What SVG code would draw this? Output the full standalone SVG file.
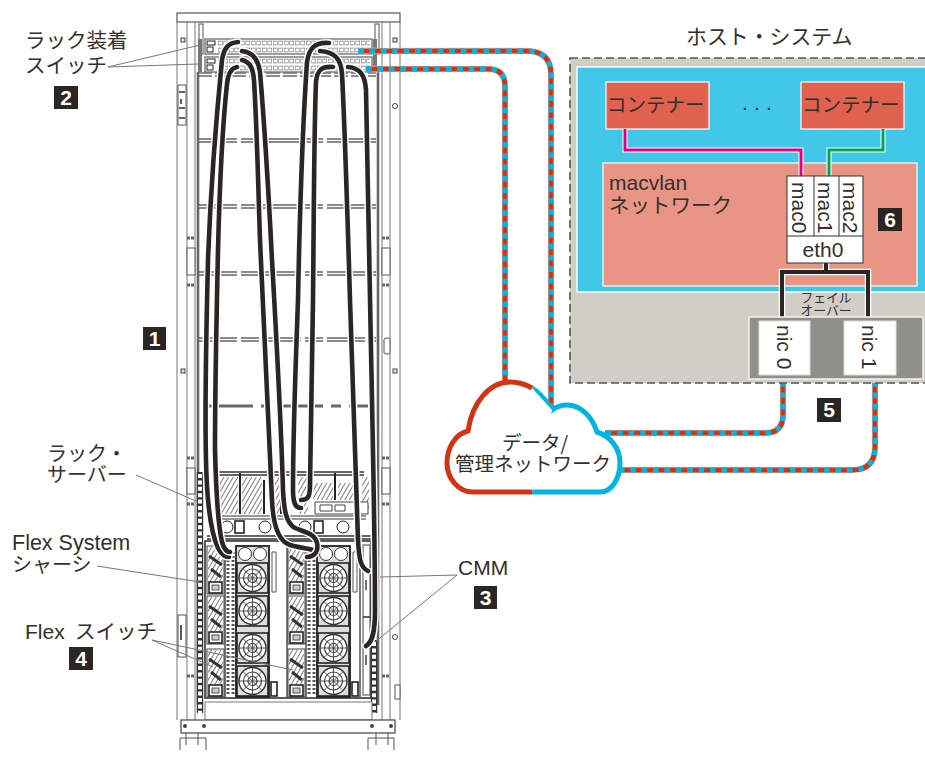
<svg xmlns="http://www.w3.org/2000/svg" width="925" height="757" viewBox="0 0 925 757">
<style>
text{font-family:"Liberation Sans","Noto Sans CJK JP",sans-serif;fill:#332f2d}
.j{font-family:"Noto Sans CJK JP","Liberation Sans",sans-serif;font-size:20px;font-weight:400}
.l{font-size:21px}
.bb{fill:#2b2523}
.bt{fill:#fff;font-size:21px;font-weight:700;text-anchor:middle}
.ln{stroke:#555;stroke-width:1;fill:none}
.t{stroke:#777;stroke-width:1;fill:none}
.thin{stroke:#444;stroke-width:.9;fill:none}
.w{fill:#fff;stroke:#555;stroke-width:1}
.sh{stroke:#666;stroke-width:1.7;fill:none}
.halo{stroke:#fff;stroke-width:7.5;fill:none;stroke-linecap:round}
.cab{stroke:#2b2523;stroke-width:4.6;fill:none;stroke-linecap:round}
.cr{stroke:#d43312;stroke-width:5;fill:none}
.cb{stroke:#00b5e2;stroke-width:5;fill:none;stroke-dasharray:5.7 5.7}
.ch{stroke:#d8d4ce;stroke-width:6.5;fill:none}
.bk{stroke:#2b2523;stroke-width:4;fill:none}
</style>
<defs>
<pattern id="hatch" width="4" height="4" patternUnits="userSpaceOnUse" patternTransform="rotate(30)"><rect width="4" height="4" fill="#fff"/><line x1="0" y1="0" x2="0" y2="4" stroke="#444" stroke-width="1.4"/></pattern>
<g id="fan"><rect x="0" y="0" width="31" height="30" fill="#ddd" stroke="#222" stroke-width="1.6"/><circle cx="15.500" cy="15" r="13.500" fill="#fff" stroke="#333" stroke-width="1.4"/><circle cx="15.500" cy="15" r="9" fill="none" stroke="#444" stroke-width="1.2"/><circle cx="15.500" cy="15" r="4.500" fill="none" stroke="#333" stroke-width="1.2"/><path d="M15.500 1.500V28.500M2 15H29M6 5.500L25 24.500M25 5.500L6 24.500" class="thin"/></g>
<g id="blade"><rect x="0" y="0" width="17" height="48" fill="#fff" stroke="#444" stroke-width="1"/><rect x="1" y="1" width="15" height="34" fill="url(#hatch)"/><path d="M2 10L15 19M4 23L14 31" stroke="#333" stroke-width="3" fill="none"/><rect x="2" y="36" width="13" height="11" fill="#fff" stroke="#222" stroke-width="1.6"/><rect x="5" y="39" width="7" height="5" fill="#ccc" stroke="#333" stroke-width=".8"/></g>
<g id="sw"><rect x="0" y="0" width="167" height="15" fill="#fff" stroke="#777" stroke-width="1.4"/><rect x="2" y="2" width="8" height="4" fill="#fff" stroke="#222"/><rect x="2" y="8" width="6" height="5" fill="#fff" stroke="#222"/><path d="M13 4H165M13 11H165" stroke="#777" stroke-width="4.400" stroke-dasharray="4.500 1" fill="none"/><path d="M13 4H165M13 11H165" stroke="#fff" stroke-width="2.800" stroke-dasharray="3.500 2" stroke-dashoffset="-.5" fill="none"/></g>
</defs>

<g id="rack">
<rect x="177" y="13" width="223" height="9" fill="#fff" stroke="#555" stroke-width="1.2"/>
<path d="M177 22V720M187 22V720M390 22V720M400 22V720" class="t"/>
<path d="M195 22V720M382 22V720" class="t"/>
<path d="M198 72V705M378 72V705" stroke="#666" stroke-width="2.600" fill="none"/>
<rect x="199" y="24" width="4" height="30" class="w"/><rect x="375" y="24" width="4" height="30" class="w"/>
<path d="M200 39V72M375 39V72" stroke="#777" stroke-width="4" fill="none"/>
<rect x="178" y="85" width="8" height="40" class="w"/><rect x="178" y="615" width="8" height="42" class="w"/>
<path d="M179 92H185M179 108H185M179 118H185M181 99V104M181 625V640" stroke="#333" stroke-width="1.6" fill="none"/>
<rect x="181" y="38" width="4" height="4" fill="#ddd" stroke="#444"/><rect x="393" y="38" width="4" height="4" fill="#ddd" stroke="#444"/>
<circle cx="395" cy="106" r="2.500" fill="#fff" stroke="#444"/><circle cx="395" cy="637" r="2.500" fill="#fff" stroke="#444"/>
<rect x="181" y="369" width="4" height="4" fill="#ddd" stroke="#444"/><rect x="393" y="369" width="4" height="4" fill="#ddd" stroke="#444"/>
<rect x="187" y="248" width="8" height="27" class="w"/><rect x="382" y="248" width="8" height="27" class="w"/>
<rect x="187" y="468" width="8" height="26" class="w"/><rect x="382" y="468" width="8" height="26" class="w"/>
<rect x="384" y="338" width="6" height="16" rx="2" class="w"/>
<rect x="395" y="685" width="5" height="14" class="w"/>
<path d="M187 238H195M187 285H195M382 238H390M382 285H390M187 458H195M382 458H390M187 504H195M382 504H390M187 676H195M382 676H390" stroke="#666" stroke-width="3" stroke-dasharray="3 1" fill="none"/>
<path d="M199 139H376M199 142H376M199 205H376M199 208H376M199 272H376M199 275H376M199 338H376M199 341H376" class="sh" stroke-dasharray="38 4 18 4"/>
<path d="M198 73H376M198 76H376" class="sh" stroke-dasharray="14 3"/>
<path d="M209 406H368" stroke="#666" stroke-width="3" stroke-dasharray="44 8 10 8" fill="none"/>
<use href="#sw" x="205" y="39"/><use href="#sw" x="205" y="57"/>
<path d="M200 472V713" stroke="#333" stroke-width="6.400" fill="none"/><path d="M200 474V713" stroke="#fff" stroke-width="4" stroke-dasharray="4 2.400" fill="none"/>
<path d="M374 640V713" stroke="#333" stroke-width="6.400" fill="none"/><path d="M374 642V713" stroke="#fff" stroke-width="4" stroke-dasharray="4 2.400" fill="none"/>
<g id="rack-server">
<path d="M218 472H364M218 475H364" stroke="#333" stroke-width="1.400" fill="none"/>
<rect x="220" y="477" width="18" height="37" fill="url(#hatch)"/><rect x="242" y="477" width="20" height="37" fill="url(#hatch)"/><rect x="273" y="477" width="8" height="37" fill="url(#hatch)"/><rect x="298" y="477" width="10" height="37" fill="url(#hatch)"/><rect x="313" y="483" width="20" height="17" fill="url(#hatch)"/><rect x="338" y="483" width="15" height="17" fill="url(#hatch)"/><rect x="362" y="477" width="7" height="37" fill="url(#hatch)"/>
<path d="M240 473V514M264 480V514M335 473V500M281 480V514" stroke="#222" stroke-width="2" fill="none"/>
<path d="M315 502H368V514H315Z" fill="#fff" stroke="#444"/>
<path d="M320 505H332V511H320ZM335 505H345V511H335Z" fill="#fff" stroke="#444"/>
<path d="M218 516H366M218 519H366" stroke="#333" stroke-width="1.200" fill="none"/>
<circle cx="227" cy="527" r="6" fill="#fff" stroke="#222"/><circle cx="265" cy="527" r="6" fill="#fff" stroke="#222"/><circle cx="305" cy="527" r="6" fill="#fff" stroke="#222"/><circle cx="343" cy="527" r="6" fill="#fff" stroke="#222"/>
<rect x="235" y="521" width="9" height="12" fill="#fff" stroke="#222" stroke-width="1.600"/><rect x="314" y="521" width="9" height="12" fill="#fff" stroke="#222" stroke-width="1.600"/>
<path d="M207 536H372M207 539H372" stroke="#333" stroke-width="1.400" fill="none"/>
</g>
<g id="chassis">
<rect x="205" y="541" width="166" height="157" fill="#fff" stroke="#333" stroke-width="1.600"/>
<use href="#blade" x="207" y="546"/><use href="#blade" x="207" y="596"/><use href="#blade" x="207" y="649"/>
<use href="#blade" x="288" y="546"/><use href="#blade" x="288" y="596"/><use href="#blade" x="288" y="649"/>
<path d="M225 547V698M287 547V698M306 547V698M360 547V698" stroke="#444" stroke-width="1.400" fill="none"/>
<path d="M228 552V695M233 552V695M309 552V695M314 552V695" stroke="#555" stroke-width="3" stroke-dasharray="2 2" fill="none"/>
<g id="fans-a"><rect x="236" y="546" width="33" height="151" fill="#ddd" stroke="#222" stroke-width="1.800"/><circle cx="245" cy="554" r="6.500" fill="#fff" stroke="#333"/><circle cx="260" cy="554" r="6.500" fill="#fff" stroke="#333"/><use href="#fan" x="237" y="563"/><use href="#fan" x="237" y="596"/><use href="#fan" x="237" y="633"/><use href="#fan" x="237" y="666"/></g>
<g id="fans-b"><rect x="317" y="546" width="33" height="151" fill="#ddd" stroke="#222" stroke-width="1.800"/><circle cx="326" cy="554" r="6.500" fill="#fff" stroke="#333"/><circle cx="341" cy="554" r="6.500" fill="#fff" stroke="#333"/><use href="#fan" x="318" y="563"/><use href="#fan" x="318" y="596"/><use href="#fan" x="318" y="633"/><use href="#fan" x="318" y="666"/></g>
<path d="M272 552H276V592H272ZM353 552H357V592H353Z" fill="#fff" stroke="#555"/>
<rect x="271" y="682" width="6" height="14" fill="#fff" stroke="#222" stroke-width="1.600"/><rect x="352" y="682" width="6" height="14" fill="#fff" stroke="#222" stroke-width="1.600"/>
<rect x="363" y="545" width="7" height="150" fill="#fff" stroke="#444"/>
<path d="M363 617H370M366 580V590M366 655V665" stroke="#333" stroke-width="1.400" fill="none"/>
</g>
<rect x="205" y="702" width="167" height="18" fill="#fff" stroke="#777"/>
<rect x="181" y="720" width="214" height="13" fill="#fff" stroke="#444" stroke-width="1.200"/>
<circle cx="185" cy="726" r="2" fill="#444"/><circle cx="204" cy="726" r="2" fill="#444"/><circle cx="372" cy="726" r="2" fill="#444"/><circle cx="391" cy="726" r="2" fill="#444"/>
<path d="M180 750V738H206V750M186 733V745M198 733V745M368 750V738H394V750M376 733V745M388 733V745" class="ln"/>
</g>

<g id="connectors">
<g id="rack-cables">
<path class="halo" d="M238 42C228 43 224 48 222 60C216 120 211 180 208 260C206 340 205 420 206 460C207 510 212 535 218 548C221 554 225 557 229 557"/><path class="cab" d="M238 42C228 43 224 48 222 60C216 120 211 180 208 260C206 340 205 420 206 460C207 510 212 535 218 548C221 554 225 557 229 557"/>
<path class="halo" d="M237 67C231 68 228 74 227 84C222 130 220 170 218 250C216 340 215 400 215 450C216 490 218 525 222 542C224 549 227 552 230 552"/><path class="cab" d="M237 67C231 68 228 74 227 84C222 130 220 170 218 250C216 340 215 400 215 450C216 490 218 525 222 542C224 549 227 552 230 552"/>
<path class="halo" d="M242 60C250 62 253 68 254 80C257 130 258 180 260 240C263 320 268 400 272 500C273 525 278 541 290 545C300 548 312 549 316 551"/><path class="cab" d="M242 60C250 62 253 68 254 80C257 130 258 180 260 240C263 320 268 400 272 500C273 525 278 541 290 545C300 548 312 549 316 551"/>
<path class="halo" d="M242 51C252 52 258 58 260 72C264 120 268 180 272 260C276 330 281 420 283 490C284 510 286 523 295 528C304 532 315 533 317 543C319 553 313 557 307 557"/><path class="cab" d="M242 51C252 52 258 58 260 72C264 120 268 180 272 260C276 330 281 420 283 490C284 510 286 523 295 528C304 532 315 533 317 543C319 553 313 557 307 557"/>
<path class="halo" d="M329 43C315 42 309 48 307 62C303 120 300 200 298 300C295 380 293 450 293 490C293 502 295 508 301 508"/><path class="cab" d="M329 43C315 42 309 48 307 62C303 120 300 200 298 300C295 380 293 450 293 490C293 502 295 508 301 508"/>
<path class="halo" d="M333 67C322 66 317 70 316 82C314 130 314 200 313 300C312 380 311 450 310 485C310 497 308 500 301 500"/><path class="cab" d="M333 67C322 66 317 70 316 82C314 130 314 200 313 300C312 380 311 450 310 485C310 497 308 500 301 500"/>
<path class="halo" d="M320 51C334 52 341 58 342 74C345 130 347 200 350 300C353 380 355 470 358 540C359 560 361 568 368 571"/><path class="cab" d="M320 51C334 52 341 58 342 74C345 130 347 200 350 300C353 380 355 470 358 540C359 560 361 568 368 571"/>
<path class="halo" d="M348 67C360 68 365 75 366 90C368 160 369 250 371 350C373 450 375 540 375 610C375 630 373 642 366 646"/><path class="cab" d="M348 67C360 68 365 75 366 90C368 160 369 250 371 350C373 450 375 540 375 610C375 630 373 642 366 646"/>
</g>
<g id="net-cables">
<path class="ch" d="M358 51H527Q551 51 551 75V408"/><path class="cr" d="M358 51H527Q551 51 551 75V408"/><path class="cb" d="M358 51H527Q551 51 551 75V408"/>
<path class="ch" d="M366 69H488Q505 69 505 86V383"/><path class="cr" d="M366 69H488Q505 69 505 86V383"/><path class="cb" d="M366 69H488Q505 69 505 86V383"/>
<path class="ch" d="M783 381V415Q783 433 765 433H605"/><path class="cr" d="M783 381V415Q783 433 765 433H605"/><path class="cb" d="M783 381V415Q783 433 765 433H605"/>
<path class="ch" d="M875 381V447Q875 470 852 470H617"/><path class="cr" d="M875 381V447Q875 470 852 470H617"/><path class="cb" d="M875 381V447Q875 470 852 470H617"/>
</g>
<g id="leaders">
<path d="M108 67L200 45M108 67L198 64M136 475L198 502M97 566L200 582M152 640L293 670M152 640L213 667M457 575L380 577M457 575L375 642" class="t"/>
</g>
</g>

<g id="host-system">
<rect x="570" y="58" width="360" height="325" fill="#d2cec7" stroke="#555" stroke-width="1.600" stroke-dasharray="8 4"/>
<rect x="577" y="67" width="350" height="225" fill="#41c8e8" stroke="#fff" stroke-width="1.400"/>
</g>
<g id="macvlan"><rect x="603" y="163" width="314" height="123" fill="#e99585" stroke="#fff" stroke-width="1.200"/>
<text x="609" y="190"><tspan class="l">macvlan</tspan><tspan class="j" x="609" y="213" style="font-size:20.500px">ネットワーク</tspan></text></g>
<g id="container-1"><rect x="606" y="82" width="103" height="47" fill="#df614e" stroke="#fff" stroke-width="1.200"/><text class="j" x="607" y="112" style="font-size:19.500px">コンテナー</text></g>
<g id="ellipsis"><text class="l" x="745 757 769" y="114" text-anchor="middle">···</text></g>
<g id="container-2"><rect x="801" y="82" width="103" height="47" fill="#df614e" stroke="#fff" stroke-width="1.200"/><text class="j" x="802" y="112" style="font-size:19.500px">コンテナー</text></g>
<g id="host-links">
<path d="M625 129V150H801V176" fill="none" stroke="#fff" stroke-width="5"/><path d="M625 129V150H801V176" fill="none" stroke="#e6007e" stroke-width="3"/>
<path d="M883 129V150H829V176" fill="none" stroke="#fff" stroke-width="5"/><path d="M883 129V150H829V176" fill="none" stroke="#00a651" stroke-width="3"/>
<path d="M826 263V272M782 320V272H868V320" fill="none" stroke="#fff" stroke-width="6.500"/><path d="M826 263V272M782 320V272H868V320" class="bk"/>
</g>
<g id="mac-stack"><rect x="787" y="176" width="76" height="87" fill="#fff" stroke="#333" stroke-width="1"/><path d="M787 236H863M814 176V236M839 176V236" stroke="#333" fill="none"/>
<text class="l" transform="translate(792 182) rotate(90)">mac0</text><text class="l" transform="translate(818 182) rotate(90)">mac1</text><text class="l" transform="translate(843 182) rotate(90)">mac2</text>
<text class="l" x="823" y="257" text-anchor="middle">eth0</text></g>
<g id="failover-label"><text class="j" text-anchor="middle" style="font-size:12.800px"><tspan x="826" y="302">フェイル</tspan><tspan x="826" y="315">オーバー</tspan></text></g>
<g id="nics"><rect x="749" y="317" width="174" height="62" fill="#90908a" stroke="#f0ede8" stroke-width="1.600"/>
<rect x="759" y="321" width="51" height="54" fill="#fff" stroke="#ddd"/><rect x="844" y="321" width="52" height="54" fill="#fff" stroke="#ddd"/>
<text class="l" transform="translate(777 325) rotate(90)">nic 0</text><text class="l" transform="translate(862 325) rotate(90)">nic 1</text></g>

<g id="cloud">
<path d="M532 492H600C612 492 620 478 620 463C620 448 610 436 597 432C592 416 580 405 567 405C561 405 556 407 552 410C546 400 540 393 532 388" fill="#fff" stroke="#00b5e2" stroke-width="5"/>
<path d="M532 388C525 384 518 382 510 382C490 382 472 402 468 430C455 434 447 448 447 463C447 478 458 492 474 492H532L552 410L532 388Z" fill="#fff" stroke="none"/>
<path d="M532 492H473C458 492 447 478 447 463C447 448 455 434 468 431C472 402 490 382 510 382C518 382 525 384 532 388" fill="none" stroke="#d43312" stroke-width="5"/>
<text class="j" style="font-size:19.500px"><tspan x="502" y="450">データ/</tspan><tspan x="455" y="471">管理ネットワーク</tspan></text>
</g>

<g id="labels">
<text class="j" style="font-size:20.500px"><tspan x="25" y="48">ラック装着</tspan><tspan x="25" y="73">スイッチ</tspan></text>
<text class="j"><tspan x="47" y="461">ラック・</tspan><tspan x="47" y="482">サーバー</tspan></text>
<text x="12" y="550"><tspan style="font-size:21.500px">Flex System</tspan><tspan class="j" x="12" y="572">シャーシ</tspan></text>
<text x="25" y="639" style="font-size:21px">Flex<tspan class="j" x="75" style="font-size:20.500px">スイッチ</tspan></text>
<text class="l" x="458" y="575">CMM</text>
<text class="j" x="686" y="44" style="font-size:20.900px">ホスト・システム</text>
</g>
<g id="badges">
<g id="b1"><rect class="bb" x="143" y="327" width="23" height="23"/><text class="bt" x="154.500" y="346">1</text></g>
<g id="b2"><rect class="bb" x="54" y="86" width="24" height="23"/><text class="bt" x="66" y="105">2</text></g>
<g id="b3"><rect class="bb" x="474" y="586" width="23" height="23"/><text class="bt" x="485.500" y="605">3</text></g>
<g id="b4"><rect class="bb" x="69" y="647" width="24" height="23"/><text class="bt" x="81" y="666">4</text></g>
<g id="b5"><rect class="bb" x="817" y="398" width="24" height="24"/><text class="bt" x="829" y="417">5</text></g>
<g id="b6"><rect class="bb" x="878" y="208" width="24" height="23"/><text class="bt" x="890" y="227">6</text></g>
</g>
</svg>
